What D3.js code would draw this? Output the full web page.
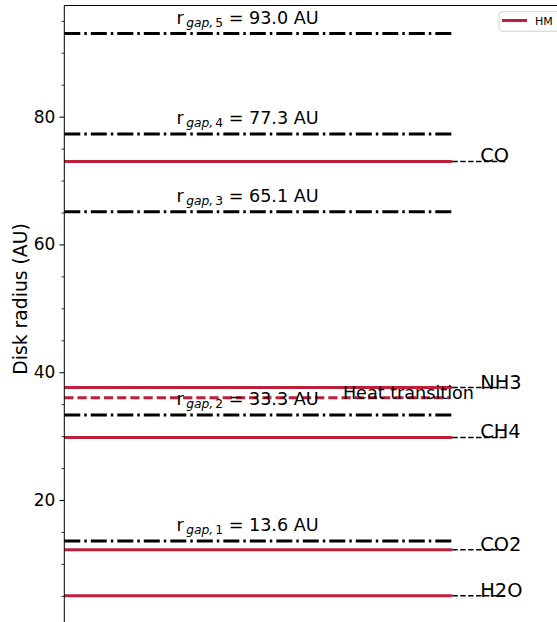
<!DOCTYPE html>
<html>
<head>
<meta charset="utf-8">
<script src="https://cdn.jsdelivr.net/npm/d3@7"></script>
<style>
  html, body { margin: 0; padding: 0; background: #fff; }
  svg { display: block; font-family: "DejaVu Sans", sans-serif; }
</style>
</head>
<body>
<svg id="chart" width="557" height="622"></svg>
<script>
// ---- data ----
const gapIds = ["1", "2", "3", "4", "5"];
const gapRadii = [13.6, 33.3, 65.1, 77.3, 93.0];
const species = ["H2O", "CO2", "CH4", "NH3", "CO"];
const snowlines = [5.0, 12.2, 29.8, 37.6, 73.0];
const heatTransition = [36.0];
const heatLabel = ["Heat transition"];
const yMajorTicks = [20, 40, 60, 80];
const yMinorTicks = [5, 10, 15, 25, 30, 35, 45, 50, 55, 65, 70, 75, 85, 90, 95];
const legendLabels = ["HM"];
const yLabel = "Disk radius (AU)";

// ---- layout ----
const RED = "#bf1f3b";
const svg = d3.select("#chart");
const x = d3.scaleLinear().domain([0, 1.3]).range([64.3, 64.3 + 388 * 1.3]);
const y = d3.scaleLinear().domain([0, 97.4]).range([627.8, 5.5]);

// gap lines (dash-dot, black)
svg.append("g").selectAll("line").data(gapRadii).join("line")
  .attr("x1", x(0)).attr("x2", x(1))
  .attr("y1", d => y(d)).attr("y2", d => y(d))
  .attr("stroke", "#000").attr("stroke-width", 3)
  .attr("stroke-dasharray", "16,4,2.5,4");

// snowline extensions (black dashed)
svg.append("g").selectAll("line").data(snowlines).join("line")
  .attr("x1", x(1)).attr("x2", x(1.137))
  .attr("y1", d => y(d)).attr("y2", d => y(d))
  .attr("stroke", "#000").attr("stroke-width", 1.5)
  .attr("stroke-dasharray", "5.5,2.4");

// snowlines (red solid)
svg.append("g").selectAll("line").data(snowlines).join("line")
  .attr("x1", x(0)).attr("x2", x(1))
  .attr("y1", d => y(d)).attr("y2", d => y(d))
  .attr("stroke", RED).attr("stroke-width", 3);

// heat transition (red dashed)
svg.append("g").selectAll("line").data(heatTransition).join("line")
  .attr("x1", x(0)).attr("x2", x(0.993))
  .attr("y1", d => y(d)).attr("y2", d => y(d))
  .attr("stroke", RED).attr("stroke-width", 3)
  .attr("stroke-dasharray", "9.2,4");

// gap labels
const gl = svg.append("g").selectAll("text").data(gapRadii).join("text")
  .attr("x", x(0.289)).attr("y", d => y(d) - 10)
  .attr("font-size", 17.6).attr("fill", "#000");
gl.append("tspan").text("r");
gl.append("tspan").attr("font-size", 12.3).attr("font-style", "italic").attr("dx", 2.5).attr("dy", 3).text("gap,");
gl.append("tspan").attr("font-size", 12.3).attr("dx", 2).text((d, i) => gapIds[i]);
gl.append("tspan").attr("dy", -3).text(d => "\u00a0= " + d.toFixed(1) + " AU");

// species labels
svg.append("g").selectAll("text").data(snowlines).join("text")
  .attr("x", x(1.072)).attr("y", d => y(d) + 1)
  .attr("font-size", 19.4).attr("fill", "#000")
  .text((d, i) => species[i]);

// heat transition label
svg.append("g").selectAll("text").data(heatTransition).join("text")
  .attr("x", x(0.718)).attr("y", d => y(d) + 0.8)
  .attr("font-size", 17.6).attr("fill", "#000")
  .text((d, i) => heatLabel[i]);

// axes
const yAxis = d3.axisLeft(y).tickValues(yMajorTicks).tickSize(4.9).tickPadding(4).tickSizeOuter(0);
const ga = svg.append("g").attr("transform", `translate(${x(0)},0)`).call(yAxis);
ga.select(".domain").remove();
ga.selectAll(".tick line").attr("stroke-width", 1);
ga.selectAll(".tick text").attr("font-size", 17).attr("font-family", "DejaVu Sans").attr("fill", "#000");

const yMinor = d3.axisLeft(y).tickValues(yMinorTicks).tickSize(2.8).tickFormat("").tickSizeOuter(0);
const gm = svg.append("g").attr("transform", `translate(${x(0)},0)`).call(yMinor);
gm.select(".domain").remove();
gm.selectAll(".tick line").attr("stroke-width", 0.8);

// spines
svg.append("line").attr("x1", x(0)).attr("x2", x(0)).attr("y1", y(97.4)).attr("y2", 640)
  .attr("stroke", "#000").attr("stroke-width", 1);
svg.append("line").attr("x1", x(0)).attr("x2", 600).attr("y1", y(97.4)).attr("y2", y(97.4))
  .attr("stroke", "#000").attr("stroke-width", 1);

// y label
svg.append("text")
  .attr("transform", `translate(26.5,${299}) rotate(-90)`)
  .attr("text-anchor", "middle")
  .attr("font-size", 18.8).attr("fill", "#000")
  .text(yLabel);

// legend
const lg = svg.append("g");
lg.append("rect").attr("x", 499).attr("y", 11.7).attr("width", 62).attr("height", 19.5)
  .attr("rx", 3).attr("fill", "#fff").attr("fill-opacity", 0.8)
  .attr("stroke", "#d0d0d0").attr("stroke-width", 1);
lg.selectAll("line").data(legendLabels).join("line")
  .attr("x1", 502).attr("x2", 527).attr("y1", 20.5).attr("y2", 20.5)
  .attr("stroke", RED).attr("stroke-width", 3);
lg.selectAll("text").data(legendLabels).join("text")
  .attr("x", 535).attr("y", 24.8).attr("font-size", 11).attr("fill", "#000")
  .text(d => d);
</script>
</body>
</html>
